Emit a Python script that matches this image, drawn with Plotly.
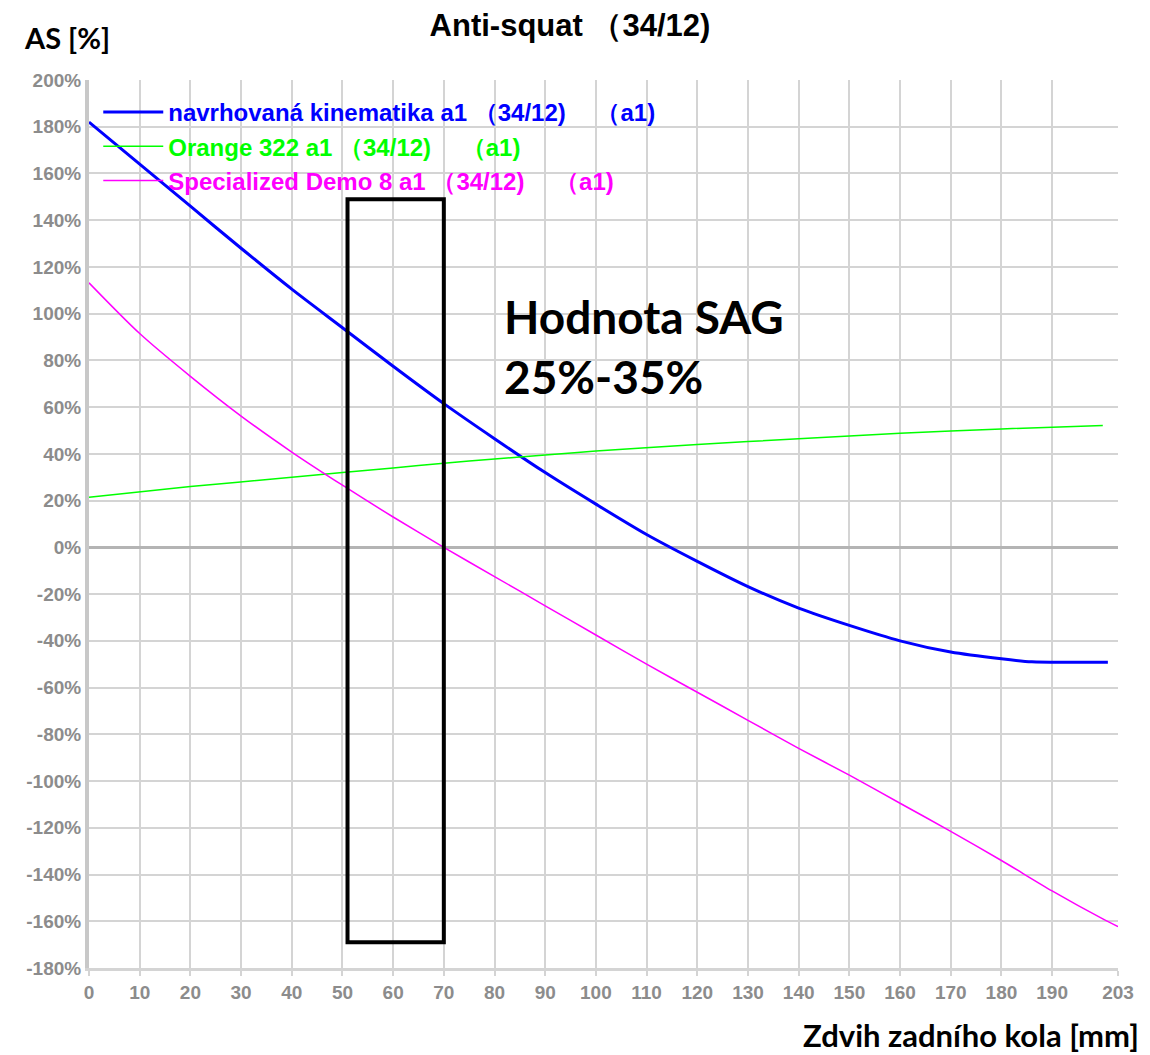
import plotly.graph_objects as go

# Rear wheel travel [mm] and anti-squat [%] for each linkage
travel_blue = [0, 10, 20, 30, 40, 50, 60, 70, 80, 90, 100, 110, 120, 130, 140, 150, 160, 170, 180, 186, 193, 201]
as_blue = [182, 164, 146, 128, 110.5, 94, 77.5, 61.5, 46.5, 32, 18.5, 5.5, -6, -16.8, -26, -33.4, -40, -44.8, -47.7, -49, -49.2, -49.2]

travel_green = [0, 20, 40, 50, 60, 70, 80, 90, 100, 120, 140, 160, 180, 200]
as_green = [21.5, 26, 30, 32, 34, 36, 37.8, 39.5, 41.2, 44, 46.5, 48.8, 50.7, 52.2]

travel_pink = [0, 10, 20, 30, 40, 50, 60, 70, 80, 90, 100, 110, 120, 130, 140, 150, 160, 170, 180, 190, 200, 203]
as_pink = [113.2, 91.5, 73.2, 56.2, 40.8, 26.6, 13, 0, -12.5, -25, -37.5, -50, -62, -74, -86, -97.5, -109.5, -121.5, -134, -147, -159, -162.3]

names = [
    "navrhovaná kinematika a1 （34/12)　 （a1)",
    "Orange 322 a1 （34/12)　 （a1)",
    "Specialized Demo 8 a1 （34/12)　 （a1)",
]
colors = ["#0000ff", "#00ff00", "#ff00ff"]

x_ticks = list(range(0, 200, 10)) + [203]
y_ticks = list(range(-180, 201, 20))

# Highlighted travel window
window_x = [51, 70]
window_y = [-169, 149]

# Plot-area geometry in pixels, used to place the outside labels
L, R, T, B = 89, 1118, 80, 968
W, H = 1150, 1055


def px(x):
    return (x - L) / (R - L)


def py(y):
    return (B - y) / (B - T)


fig = go.Figure()
series = [(travel_blue, as_blue, 3), (travel_green, as_green, 1.5), (travel_pink, as_pink, 1.5)]
for i, ((xs, ys, w), nm, c) in enumerate(zip(series, names, colors)):
    fig.add_trace(go.Scatter(
        x=xs, y=ys, mode="lines",
        line=dict(color=c, width=w, shape="spline", smoothing=0.8),
        name=f'<span style="color:{c}"><b>{nm}</b></span>',
        legendgroup=f"g{i}",
    ))

fig.add_shape(type="rect", xref="x", yref="y",
              x0=window_x[0], x1=window_x[1], y0=window_y[0], y1=window_y[1],
              line=dict(color="black", width=4), fillcolor="rgba(0,0,0,0)")

grid = "#d4d4d4"
tickfont = dict(family="Liberation Sans", size=19, color="#8c8c8c")

fig.update_layout(
    width=W, height=H,
    margin=dict(l=L, r=W - R, t=T, b=H - B),
    paper_bgcolor="white", plot_bgcolor="white",
    title=dict(text="<b>Anti-squat （34/12)</b>", x=570 / W, xanchor="center",
               y=1 - 25 / H, yanchor="middle",
               font=dict(family="Liberation Sans", size=31, color="black")),
    showlegend=True,
    legend=dict(x=0.009, y=py(90), xanchor="left", yanchor="top",
                bgcolor="rgba(0,0,0,0)", traceorder="grouped", tracegroupgap=0,
                itemwidth=60,
                font=dict(family="Liberation Sans", size=24)),
    xaxis=dict(range=[0, 203], tickvals=x_ticks, ticktext=[f"<b>{v}</b>" for v in x_ticks],
               showgrid=True, gridcolor=grid, gridwidth=2,
               showline=True, linecolor=grid, linewidth=3,
               ticks="outside", ticklen=5, tickcolor=grid, tickwidth=2,
               tickfont=tickfont, zeroline=False),
    yaxis=dict(range=[-180, 200], tickvals=y_ticks, ticktext=[f"<b>{v}%</b>" for v in y_ticks],
               showgrid=True, gridcolor=grid, gridwidth=2,
               showline=True, linecolor="#c8c8c8", linewidth=4,
               ticks="", tickfont=tickfont,
               zeroline=True, zerolinecolor="#b4b4b4", zerolinewidth=3),
    annotations=[
        dict(x=px(22), y=py(38), xref="paper", yref="paper",
             xanchor="left", yanchor="middle", showarrow=False,
             text="<b>AS [%]</b>", font=dict(family="Lato", size=29, color="black")),
        dict(x=px(1141), y=py(1035), xref="paper", yref="paper",
             xanchor="right", yanchor="middle", showarrow=False,
             text="<b>Zdvih zadního kola [mm]</b>", font=dict(family="Lato", size=31, color="black")),
        dict(x=81.5, y=86, xref="x", yref="y", xanchor="left", yanchor="middle",
             text="<b>Hodnota SAG<br>25%-35%</b>", showarrow=False, align="left",
             font=dict(family="Lato", size=46, color="black")),
    ],
)

fig.write_html("out.html")
